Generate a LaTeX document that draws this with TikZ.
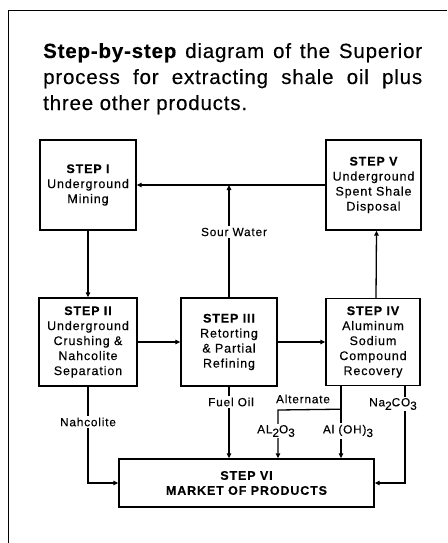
\documentclass[tikz,border=0pt]{standalone}
\usepackage{fontspec}
\setmainfont{Liberation Sans}
\newfontfamily\titlefont[LetterSpace=4,FakeBold=0.3]{Liberation Sans}
\newfontfamily\boxfont[LetterSpace=7,FakeBold=0.3]{Liberation Sans}
\usetikzlibrary{arrows.meta}
\newcommand\lowr[1]{\raisebox{-3.5pt}{#1}}
\begin{document}
\begin{tikzpicture}[x=1pt,y=-1pt,
  stepbox/.style={draw, line width=1.4pt, align=center, inner sep=0pt,
    font=\boxfont\fontsize{12.5}{15}\selectfont},
  flow/.style={line width=1.3pt, -{Triangle[length=5pt,width=4.5pt]}},
  lbl/.style={fill=white, inner sep=1.5pt, font=\boxfont\fontsize{11.8}{14}\selectfont},
  ttl/.style={anchor=base west, inner sep=0pt, font=\titlefont\fontsize{20.5}{26}\selectfont}]
\useasboundingbox (0,0) rectangle (447,543);
% frame
\draw[line width=0.9pt] (8,543) -- (8,10) -- (447,10);
% title
\node[ttl] (t1) at (43,58) {\makebox[379pt][s]{{\bfseries Step-by-step} diagram of the Superior}};
\node[ttl] (t2) at (43,84) {\makebox[379pt][s]{process for extracting shale oil plus}};
\node[ttl] (t3) at (43,110) {three other products.};
% boxes
\node[stepbox, minimum width=96pt, minimum height=90pt] (s1) at (88,185)
  {{\bfseries STEP I}\\Underground\\Mining};
\node[stepbox, minimum width=95pt, minimum height=90pt] (s5) at (373.5,185)
  {{\bfseries STEP V}\\Underground\\Spent Shale\\Disposal};
\node[stepbox, minimum width=98pt, minimum height=88pt] (s2) at (88,342)
  {{\bfseries STEP II}\\Underground\\Crushing \&\\Nahcolite\\Separation};
\node[stepbox, minimum width=96pt, minimum height=88pt] (s3) at (229,342)
  {{\bfseries STEP III}\\Retorting\\\& Partial\\Refining};
\node[stepbox, minimum width=94pt, minimum height=87pt] (s4) at (373,342)
  {{\bfseries STEP IV}\\Aluminum\\Sodium\\Compound\\Recovery};
\node[stepbox, minimum width=255pt, minimum height=48pt] (s6) at (246.5,483)
  {{\bfseries STEP VI}\\{\bfseries MARKET OF PRODUCTS}};
% connectors
\coordinate (sw) at (s3.north |- s1.east);
\draw[flow] (s5.west) -- (s1.east);
\draw[flow] (s3.north) -- (sw);
\draw[flow] (s1.south) -- (s2.north);
\draw[flow] (s2.east) -- (s3.west);
\draw[flow] (s3.east) -- (s4.west);
\draw[flow] ([xshift=3pt]s4.north) -- ([xshift=3pt]s5.south);
\draw[flow] (s2.south) |- (s6.west);
\draw[flow] (s3.south) -- (s3.south |- s6.north);
\coordinate (jn) at ([xshift=-32pt,yshift=-23pt]s4.south);
\coordinate (al) at (278,410);
\draw[flow] ([xshift=-32pt]s4.south) -- ([xshift=-32pt]s4.south |- s6.north);
\draw[flow] (jn) -- (al) -- (al |- s6.north);
\draw[flow] ([xshift=32pt]s4.south) |- (s6.east);
% labels
\node[lbl] (sour) at (234,232) {Sour Water};
\node[lbl] (nah) at (88,422) {Nahcolite};
\node[lbl] (fuel) at (231,402) {Fuel Oil};
\node[lbl, fill=none] (alt) at (303,399) {Alternate};
\node[lbl] (na) at (393,404) {Na\lowr{2}CO\lowr{3}};
\node[lbl] (al2) at (276,431) {AL\lowr{2}O\lowr{3}};
\node[lbl] (aloh) at (348,431) {Al (OH)\lowr{3}};
\end{tikzpicture}
\end{document}
